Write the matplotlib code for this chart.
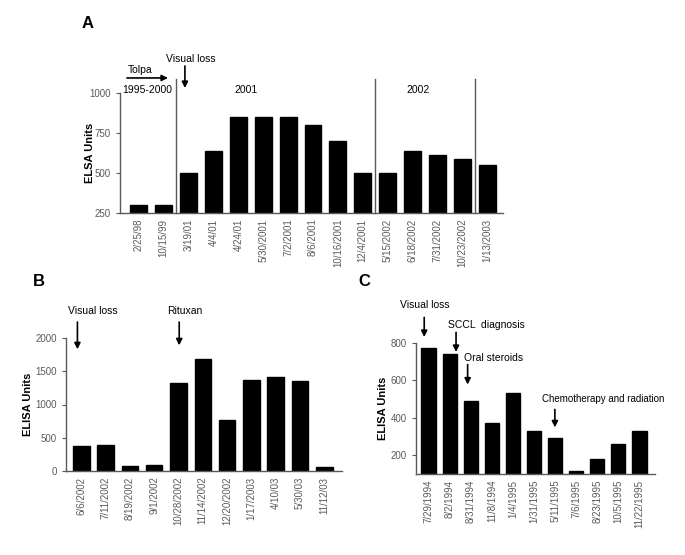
import matplotlib
matplotlib.use('Agg')
import matplotlib.pyplot as plt
import numpy as np

plt.rcParams['font.family'] = ['Liberation Sans', 'DejaVu Sans']

# panel A
a_dates = ['2/25/98', '10/15/99', '3/19/01', '4/4/01', '4/24/01', '5/30/2001', '7/2/2001',
           '8/6/2001', '10/16/2001', '12/4/2001', '5/15/2002', '6/18/2002', '7/31/2002',
           '10/23/2002', '1/13/2003']
a_vals = [300, 300, 500, 640, 850, 850, 850, 800, 700, 500, 500, 640, 610, 590, 550]
a_yticks = [250, 500, 750, 1000]

# panel B
b_dates = ['6/6/2002', '7/11/2002', '8/19/2002', '9/1/2002', '10/28/2002', '11/14/2002',
           '12/20/2002', '1/17/2003', '4/10/03', '5/30/03', '11/12/03']
b_vals = [375, 390, 75, 90, 1330, 1690, 760, 1365, 1420, 1360, 60]
b_yticks = [0, 500, 1000, 1500, 2000]

# panel C
c_dates = ['7/29/1994', '8/2/1994', '8/31/1994', '11/8/1994', '1/4/1995', '1/31/1995',
           '5/11/1995', '7/6/1995', '8/23/1995', '10/5/1995', '11/22/1995']
c_vals = [775, 740, 490, 370, 535, 330, 295, 115, 180, 258, 330]
c_yticks = [200, 400, 600, 800]

W, H = 685, 555
fig = plt.figure(figsize=(W / 100, H / 100), dpi=100)

GRAY = '#5a5a5a'


def box(x0, y0, x1, y1):
    # pixel box (top-left origin) -> figure fraction rect
    return [x0 / W, 1 - y1 / H, (x1 - x0) / W, (y1 - y0) / H]


def bars(ax, labels, vals, yticks, ylim, xlim, ylabel):
    x = np.arange(len(vals))
    ax.bar(x, vals, width=0.68, color='black', edgecolor='black')
    ax.set_xlim(*xlim)
    ax.set_ylim(*ylim)
    ax.set_xticks(x)
    ax.set_xticklabels(labels, rotation=90, fontsize=7, color=GRAY)
    ax.set_yticks(yticks)
    ax.tick_params(axis='y', labelsize=7, colors=GRAY, length=3, width=0.8)
    ax.tick_params(axis='x', length=0, pad=4)
    for s in ['top', 'right']:
        ax.spines[s].set_visible(False)
    for s in ['left', 'bottom']:
        ax.spines[s].set_color(GRAY)
        ax.spines[s].set_linewidth(1)
    ax.set_ylabel(ylabel, fontsize=8, fontweight='bold')


def arrow(ax, x, y0, y1):
    ax.annotate('', xy=(x, y1), xytext=(x, y0), xycoords='data', annotation_clip=False,
                arrowprops=dict(arrowstyle='-|>', color='black', lw=1.2, mutation_scale=9,
                                shrinkA=0, shrinkB=0))


ann = dict(fontsize=7.5, ha='center', va='center', clip_on=False)

# ---- A ----
axA = fig.add_axes(box(120, 93, 503, 213))
bars(axA, a_dates, a_vals, a_yticks, (250, 1000), (-0.76, 14.64), 'ELSA Units')
axA.yaxis.set_label_coords(-0.065, 0.5)
for xv in [1.5, 9.5, 13.5]:
    axA.plot([xv, xv], [250, 1087], color=GRAY, lw=1, clip_on=False)
axA.text(-0.44, 1144, 'Tolpa', fontsize=7.5, ha='left', va='center', clip_on=False)
axA.annotate('', xy=(1.17, 1094), xytext=(-0.48, 1094), annotation_clip=False,
             arrowprops=dict(arrowstyle='-|>', color='black', lw=1.2, mutation_scale=9,
                             shrinkA=0, shrinkB=0))
axA.text(0.32, 1019, '1995-2000', **ann)
axA.text(4.29, 1019, '2001', **ann)
axA.text(11.22, 1019, '2002', **ann)
axA.text(2.09, 1212, 'Visual loss', **ann)
arrow(axA, 1.85, 1169, 1031)

# ---- B ----
axB = fig.add_axes(box(66, 338, 342, 471))
bars(axB, b_dates, b_vals, b_yticks, (0, 2000), (-0.63, 10.73), 'ELISA Units')
axB.yaxis.set_label_coords(-0.12, 0.5)
axB.text(0.49, 2404, 'Visual loss', **ann)
arrow(axB, -0.16, 2240, 1830)
axB.text(4.24, 2404, 'Rituxan', **ann)
arrow(axB, 4.03, 2240, 1890)

# ---- C ----
axC = fig.add_axes(box(416, 343, 655, 474))
bars(axC, c_dates, c_vals, c_yticks, (100, 800), (-0.60, 10.74), 'ELISA Units')
axC.yaxis.set_label_coords(-0.117, 0.5)
axC.text(-0.18, 1003, 'Visual loss', **ann)
arrow(axC, -0.21, 937, 832)
axC.text(2.72, 894, 'SCCL  diagnosis', **ann)
arrow(axC, 1.30, 857, 752)
axC.text(3.10, 722, 'Oral steroids', **ann)
arrow(axC, 1.85, 685, 578)
axC.text(8.26, 500, 'Chemotherapy and radiation', fontsize=7, ha='center', va='center',
         clip_on=False)
arrow(axC, 5.99, 445, 349)

# panel letters
fig.text(88 / W, 1 - 24 / H, 'A', fontsize=12, fontweight='bold', ha='center', va='center')
fig.text(39 / W, 1 - 282 / H, 'B', fontsize=12, fontweight='bold', ha='center', va='center')
fig.text(364 / W, 1 - 282 / H, 'C', fontsize=12, fontweight='bold', ha='center', va='center')

fig.savefig('out.png', dpi=100)
